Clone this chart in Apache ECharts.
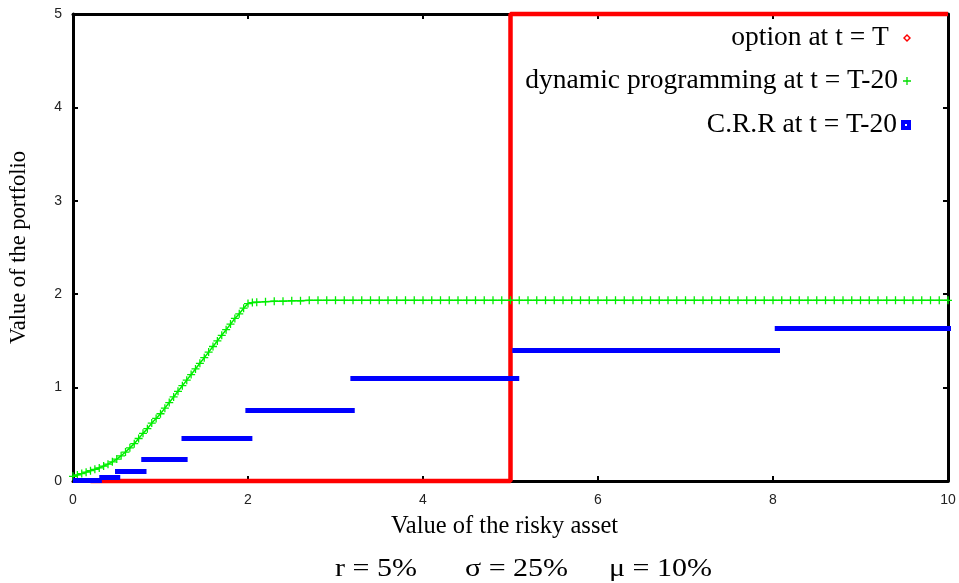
<!DOCTYPE html>
<html>
<head>
<meta charset="utf-8">
<script src="https://cdn.jsdelivr.net/npm/echarts@6/dist/echarts.min.js"></script>
<style>html,body{margin:0;padding:0;background:#fff}#c{width:959px;height:583px}</style>
</head>
<body>
<div id="c"></div>
<script>
// ---- data ----
const xTicks = [0, 2, 4, 6, 8, 10];
const yTicks = [0, 1, 2, 3, 4, 5];
const seriesNames = ['option at t = T', 'dynamic programming at t = T-20', 'C.R.R at t = T-20'];

// option payoff at t = T
const optX = [0.2, 5, 5, 10];
const optY = [0, 0, 5, 5];

// dynamic programming at t = T-20
const dpX = [0, 0.05, 0.1, 0.15, 0.2, 0.25, 0.3, 0.35, 0.4, 0.45, 0.5, 0.55, 0.6, 0.65, 0.7, 0.75, 0.8, 0.85, 0.9, 0.95,
  1, 1.05, 1.1, 1.15, 1.2, 1.25, 1.3, 1.35, 1.4, 1.45, 1.5, 1.55, 1.6, 1.65, 1.7, 1.75, 1.8, 1.85, 1.9, 1.95,
  2, 2.05, 2.1, 2.2, 2.3, 2.4, 2.5, 2.6, 2.7, 2.8, 2.9, 3, 3.1, 3.2, 3.3, 3.4, 3.5, 3.6, 3.7, 3.8, 3.9,
  4, 4.1, 4.2, 4.3, 4.4, 4.5, 4.6, 4.7, 4.8, 4.9, 5, 5.1, 5.2, 5.3, 5.4, 5.5, 5.6, 5.7, 5.8, 5.9,
  6, 6.1, 6.2, 6.3, 6.4, 6.5, 6.6, 6.7, 6.8, 6.9, 7, 7.1, 7.2, 7.3, 7.4, 7.5, 7.6, 7.7, 7.8, 7.9,
  8, 8.1, 8.2, 8.3, 8.4, 8.5, 8.6, 8.7, 8.8, 8.9, 9, 9.1, 9.2, 9.3, 9.4, 9.5, 9.6, 9.7, 9.8, 9.9, 10];
const dpY = [0.05, 0.065, 0.08, 0.095, 0.11, 0.125, 0.14, 0.16, 0.18, 0.205, 0.235, 0.27, 0.31, 0.355, 0.40, 0.455, 0.51, 0.56, 0.62, 0.67,
  0.72, 0.78, 0.84, 0.90, 0.96, 1.02, 1.08, 1.14, 1.20, 1.26, 1.32, 1.38, 1.44, 1.50, 1.56, 1.62, 1.68, 1.74, 1.79, 1.85,
  1.90, 1.91, 1.915, 1.92, 1.925, 1.925, 1.93, 1.93, 1.935, 1.935, 1.935, 1.935, 1.935, 1.935, 1.935, 1.935, 1.935, 1.935, 1.935, 1.935, 1.935,
  1.935, 1.935, 1.935, 1.935, 1.935, 1.935, 1.935, 1.935, 1.935, 1.935, 1.935, 1.935, 1.935, 1.935, 1.935, 1.935, 1.935, 1.935, 1.935, 1.935,
  1.935, 1.935, 1.935, 1.935, 1.935, 1.935, 1.935, 1.935, 1.935, 1.935, 1.935, 1.935, 1.935, 1.935, 1.935, 1.935, 1.935, 1.935, 1.935, 1.935,
  1.935, 1.935, 1.935, 1.935, 1.935, 1.935, 1.935, 1.935, 1.935, 1.935, 1.935, 1.935, 1.935, 1.935, 1.935, 1.935, 1.935, 1.935, 1.935, 1.935, 1.935];

// C.R.R at t = T-20 : horizontal steps (start x, end x, value)
const crrX1 = [0, 0.30, 0.48, 0.78, 1.24, 1.97, 3.17, 5.02, 8.02];
const crrX2 = [0.33, 0.54, 0.84, 1.31, 2.05, 3.22, 5.10, 8.08, 10.05];
const crrY  = [0.005, 0.035, 0.10, 0.235, 0.455, 0.755, 1.10, 1.40, 1.64];

const paramTexts = ['r = 5%', '\u03c3 = 25%', '\u03bc = 10%'];

// ---- chart ----
const chart = echarts.init(document.getElementById('c'), null, {renderer: 'canvas'});
const serif = '"Liberation Serif", "Times New Roman", serif';
const plusPath = 'path://M4.2,0h1.6v4.2h4.2v1.6h-4.2v4.2h-1.6v-4.2h-4.2v-1.6h4.2z';
const diamondPath = 'path://M5,0L10,5L5,10L0,5Z M5,2.5L2.5,5L5,7.5L7.5,5Z';
const squarePath = 'path://M0,0H10V10H0Z M2.5,2.5V7.5H7.5V2.5Z';

const axisCommon = {
  type: 'value',
  splitLine: {show: false},
  axisLine: {show: true, onZero: false, lineStyle: {color: '#000', width: 3}},
  axisTick: {show: true, inside: true, length: 5, lineStyle: {color: '#000', width: 2}}
};

function legendAt(i, top, icon, color, suffix) {
  return {
    show: true,
    data: [{name: seriesNames[i], icon: icon, itemStyle: {color: color}}],
    orient: 'vertical',
    right: 43,
    top: top,
    align: 'right',
    itemWidth: 8,
    itemHeight: 8,
    selectedMode: false,
    formatter: n => n + suffix,
    textStyle: {fontFamily: serif, fontSize: 27.5, color: '#000'}
  };
}

const option = {
  backgroundColor: '#fff',
  animation: false,
  grid: {left: 71, right: 11, top: 14, bottom: 102, containLabel: false},
  legend: [
    legendAt(0, 19, diamondPath, '#ff0000', ' \u200a'),
    legendAt(1, 62, plusPath, '#00dd00', ''),
    legendAt(2, 106, squarePath, '#0000ff', '')
  ],
  xAxis: [
    Object.assign({}, axisCommon, {
      min: xTicks[0], max: xTicks[xTicks.length - 1], interval: 2, position: 'bottom',
      name: 'Value of the risky asset', nameLocation: 'middle', nameGap: 33,
      nameTextStyle: {fontFamily: serif, fontSize: 24.5, color: '#000', padding: [0, 12, 0, 0]},
      axisLabel: {margin: 12, fontFamily: '"Liberation Sans", Arial, sans-serif', fontSize: 14, color: '#222'}
    }),
    Object.assign({}, axisCommon, {
      min: xTicks[0], max: xTicks[xTicks.length - 1], interval: 2, position: 'top',
      axisLabel: {show: false}
    })
  ],
  yAxis: [
    Object.assign({}, axisCommon, {
      min: yTicks[0], max: yTicks[yTicks.length - 1], interval: 1, position: 'left',
      name: 'Value of the portfolio', nameLocation: 'middle', nameGap: 42, nameRotate: 90,
      nameTextStyle: {fontFamily: serif, fontSize: 22.5, color: '#000'},
      axisLabel: {margin: 11, fontFamily: '"Liberation Sans", Arial, sans-serif', fontSize: 14, color: '#222'}
    }),
    Object.assign({}, axisCommon, {
      min: yTicks[0], max: yTicks[yTicks.length - 1], interval: 1, position: 'right',
      axisLabel: {show: false}
    })
  ],
  series: [
    {
      name: seriesNames[0], type: 'line', xAxisIndex: 0, yAxisIndex: 0,
      data: optX.map((x, i) => [x, optY[i]]),
      showSymbol: false, symbol: 'none', clip: false, z: 3,
      lineStyle: {color: '#ff0000', width: 4.5},
      itemStyle: {color: '#ff0000'}
    },
    {
      name: seriesNames[1], type: 'line', xAxisIndex: 0, yAxisIndex: 0,
      data: dpX.map((x, i) => [x, dpY[i]]),
      symbol: plusPath, symbolSize: 8, showSymbol: true, showAllSymbol: true, z: 4,
      lineStyle: {color: '#00ee00', width: 1.5},
      itemStyle: {color: '#00ee00'}
    },
    {
      name: seriesNames[2], type: 'lines', coordinateSystem: 'cartesian2d', xAxisIndex: 0, yAxisIndex: 0,
      data: crrY.map((y, i) => ({coords: [[crrX1[i], y], [crrX2[i], y]]})),
      lineStyle: {color: '#0000ff', width: 5, opacity: 1}, z: 5,
      itemStyle: {color: '#0000ff'}
    }
  ],
  graphic: [
    {type: 'text', x: 335, y: 557, scaleX: 1.2, style: {text: paramTexts[0], font: '25px ' + serif, fill: '#000'}},
    {type: 'text', x: 465, y: 557, scaleX: 1.2, style: {text: paramTexts[1], font: '25px ' + serif, fill: '#000'}},
    {type: 'text', x: 609, y: 557, scaleX: 1.2, style: {text: paramTexts[2], font: '25px ' + serif, fill: '#000'}}
  ]
};
chart.setOption(option);
</script>
</body>
</html>
